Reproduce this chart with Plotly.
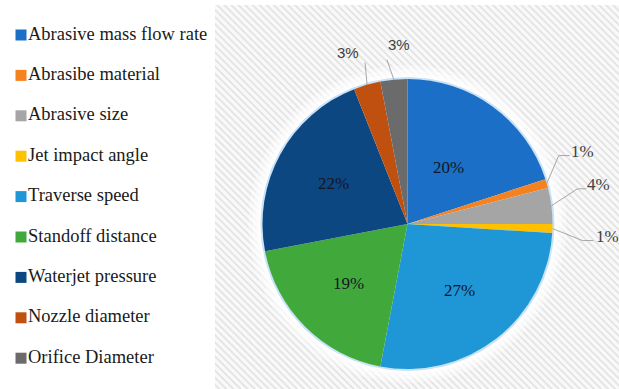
import numpy as np
import plotly.graph_objects as go

# ---- data -------------------------------------------------------------
categories = [
    "Abrasive mass flow rate",
    "Abrasibe material",
    "Abrasive size",
    "Jet impact angle",
    "Traverse speed",
    "Standoff distance",
    "Waterjet pressure",
    "Nozzle diameter",
    "Orifice Diameter",
]
shares = [20, 1, 4, 1, 27, 19, 22, 3, 3]
colors = ["#1b6fc6", "#f58220", "#a5a5a5", "#ffc000", "#1f97d6",
          "#41a93c", "#0c4782", "#c0500f", "#6b6b6b"]

# ---- geometry (pixels) --------------------------------------------------
W, H = 619, 389
CX, CY, R = 407.5, 224.0, 145.0
PANEL = dict(x0=215, x1=619, y0=5, y1=389)

SERIF = "Liberation Serif, Times New Roman, serif"
SANS = "Liberation Sans, Arial, sans-serif"

# labels drawn inside the slice: radial position as a fraction of R
inside_radius = {"Abrasive mass flow rate": 0.48}
DEFAULT_INSIDE = 0.58

# labels drawn outside with a leader line: offsets from the slice edge point
# (elbow points of the leader, then label centre), plus the label font
outside = {
    "Abrasibe material": dict(path=[(12, -28), (23, -28)], label=(36, -32), font=SERIF, size=17),
    "Abrasive size":     dict(path=[(26, -17), (35, -17)], label=(47, -21), font=SERIF, size=17),
    "Jet impact angle":  dict(path=[(30, 12), (41, 12)],   label=(55, 8),   font=SERIF, size=17),
    "Nozzle diameter":   dict(path=[(-2, -22)],            label=(-19, -32), font=SANS, size=15),
    "Orifice Diameter":  dict(path=[(-7, -20)],            label=(5, -35),  font=SANS, size=15),
}

vals = np.array(shares, dtype=float)
total = vals.sum()
mid_deg = (np.cumsum(vals) - vals / 2) / total * 360.0  # clockwise from 12 o'clock


def polar(angle_deg, radius):
    a = np.radians(angle_deg)
    return CX + radius * np.sin(a), CY - radius * np.cos(a)


def circle(radius, n=240):
    t = np.linspace(0, 2 * np.pi, n)
    return CX + radius * np.cos(t), CY + radius * np.sin(t)


fig = go.Figure()

# hatched panel behind the pie
fig.add_trace(go.Scatter(
    x=[PANEL["x0"], PANEL["x1"], PANEL["x1"], PANEL["x0"], PANEL["x0"]],
    y=[PANEL["y0"], PANEL["y0"], PANEL["y1"], PANEL["y1"], PANEL["y0"]],
    mode="lines", fill="toself", line=dict(width=0),
    fillcolor="#f8f8f8",
    fillpattern=dict(shape="\\", size=5, solidity=0.3,
                     fgcolor="#e0e0e0", bgcolor="#f9f9f9", fillmode="replace"),
    hoverinfo="skip", showlegend=False,
))

# soft white glow around the pie
for extra, alpha in [(14, 0.35), (10, 0.45), (6, 0.6), (3, 0.8)]:
    gx, gy = circle(R + extra)
    fig.add_trace(go.Scatter(x=gx, y=gy, mode="lines", fill="toself",
                             fillcolor=f"rgba(255,255,255,{alpha})", line=dict(width=0),
                             hoverinfo="skip", showlegend=False))
rx, ry = circle(R + 0.5)
fig.add_trace(go.Scatter(x=rx, y=ry, mode="lines", line=dict(color="#c9e2f6", width=3),
                         hoverinfo="skip", showlegend=False))

# leader lines for the small slices
lx, ly = [], []
for i, name in enumerate(categories):
    if name not in outside:
        continue
    ex, ey = polar(mid_deg[i], R)
    lx.append(ex)
    ly.append(ey)
    for dx, dy in outside[name]["path"]:
        lx.append(ex + dx)
        ly.append(ey + dy)
    lx.append(None)
    ly.append(None)
fig.add_trace(go.Scatter(x=lx, y=ly, mode="lines", line=dict(color="#a6a6a6", width=1),
                         hoverinfo="skip", showlegend=False))

# legend drawn as a column of swatches and names
LEG_Y0, LEG_STEP = 35.0, 40.4
leg_y = [LEG_Y0 + LEG_STEP * i for i in range(len(categories))]
fig.add_trace(go.Scatter(
    x=[21] * len(categories), y=leg_y, mode="markers",
    marker=dict(symbol="square", size=11, color=colors, line=dict(width=0)),
    hoverinfo="skip", showlegend=False,
))
fig.add_trace(go.Scatter(
    x=[28] * len(categories), y=leg_y, mode="text", text=categories,
    textposition="middle right",
    textfont=dict(family=SERIF, size=18.5, color="#1a1a1a"),
    hoverinfo="skip", showlegend=False,
))

# the pie itself
fig.add_trace(go.Pie(
    labels=categories, values=shares, sort=False, direction="clockwise", rotation=0,
    marker=dict(colors=colors, line=dict(width=0)),
    textinfo="none", showlegend=False,
    domain=dict(x=[(CX - R) / W, (CX + R) / W], y=[(H - CY - R) / H, (H - CY + R) / H]),
))

# percentage labels
annotations = []
for i, name in enumerate(categories):
    txt = f"{shares[i]}%"
    if name in outside:
        ex, ey = polar(mid_deg[i], R)
        dx, dy = outside[name]["label"]
        annotations.append(dict(x=ex + dx, y=ey + dy, xref="x", yref="y", text=txt,
                                showarrow=False,
                                font=dict(family=outside[name]["font"], size=outside[name]["size"],
                                          color="#404040")))
    else:
        px, py = polar(mid_deg[i], R * inside_radius.get(name, DEFAULT_INSIDE))
        annotations.append(dict(x=px, y=py, xref="x", yref="y", text=txt, showarrow=False,
                                font=dict(family=SERIF, size=17, color="#151525")))

fig.update_layout(
    width=W, height=H,
    margin=dict(l=0, r=0, t=0, b=0),
    paper_bgcolor="white", plot_bgcolor="rgba(0,0,0,0)",
    showlegend=False,
    xaxis=dict(range=[0, W], visible=False, fixedrange=True),
    yaxis=dict(range=[H, 0], visible=False, fixedrange=True),
    annotations=annotations,
)

fig.write_html("out.html")
